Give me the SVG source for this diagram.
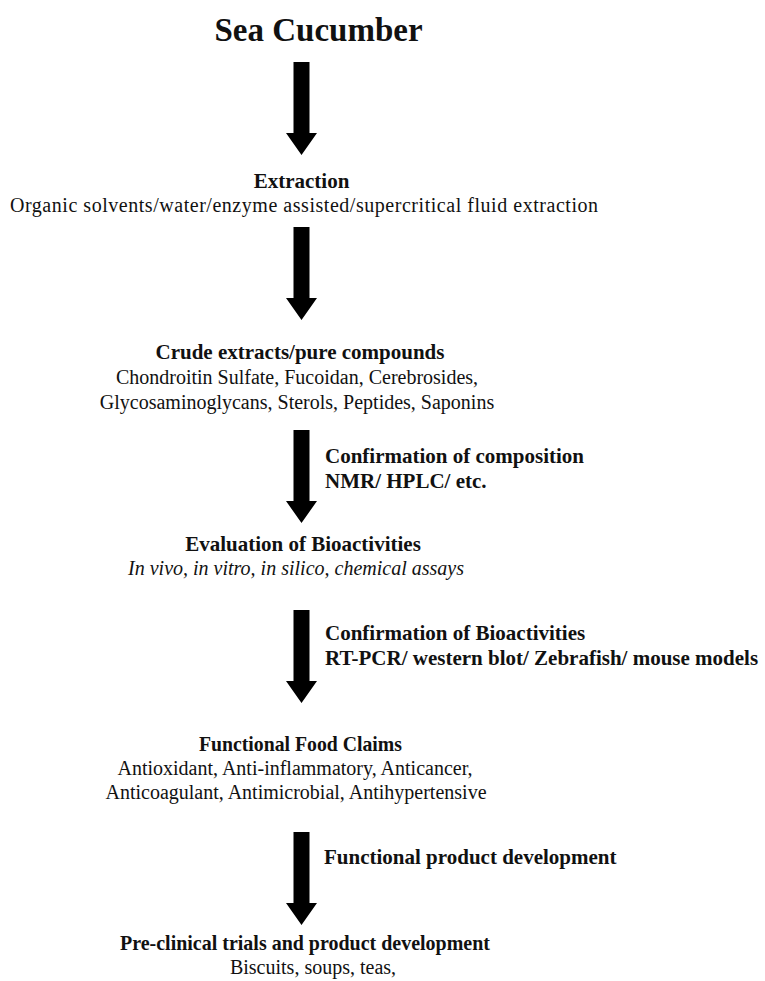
<svg xmlns="http://www.w3.org/2000/svg" width="765" height="981" viewBox="0 0 765 981">
<style>
text{font-family:"Liberation Serif","Times New Roman",serif;fill:#111}
.t{font-size:33px;font-weight:bold;text-anchor:middle}
.h{font-size:21px;font-weight:bold;text-anchor:middle}
.b{font-size:20px;text-anchor:middle}
.i{font-size:20px;font-style:italic;text-anchor:middle}
.l{font-size:21px;font-weight:bold}
.arr{fill:#000}
</style>
<defs>
<path id="arrow" d="M-8,0 H8 V71 H15.5 L0,93 L-15.5,71 H-8 Z"/>
</defs>
<rect width="765" height="981" fill="#fff"/>
<g id="connectors">
<use href="#arrow" class="arr" x="301.5" y="62"/>
<use href="#arrow" class="arr" x="301.5" y="227"/>
<use href="#arrow" class="arr" x="301.5" y="430"/>
<use href="#arrow" class="arr" x="301.5" y="610"/>
<use href="#arrow" class="arr" x="301.5" y="832"/>
</g>
<g id="sea-cucumber"><text class="t" x="318.5" y="41">Sea Cucumber</text></g>
<g id="extraction">
<text class="h" x="301.5" y="188">Extraction</text>
<text class="b" x="304" y="212" textLength="588" lengthAdjust="spacing">Organic solvents/water/enzyme assisted/supercritical fluid extraction</text>
</g>
<g id="crude">
<text class="h" x="300" y="359">Crude extracts/pure compounds</text>
<text class="b" x="297" y="384">Chondroitin Sulfate, Fucoidan, Cerebrosides,</text>
<text class="b" x="297" y="409">Glycosaminoglycans, Sterols, Peptides, Saponins</text>
</g>
<g id="label-composition">
<text class="l" x="325" y="463">Confirmation of composition</text>
<text class="l" x="325" y="488">NMR/ HPLC/ etc.</text>
</g>
<g id="evaluation">
<text class="h" x="303" y="551">Evaluation of Bioactivities</text>
<text class="i" x="296" y="575">In vivo, in vitro, in silico, chemical assays</text>
</g>
<g id="label-bioactivities">
<text class="l" x="325" y="640">Confirmation of Bioactivities</text>
<text class="l" x="325" y="665">RT-PCR/ western blot/ Zebrafish/ mouse models</text>
</g>
<g id="claims">
<text class="h" x="300.5" y="751" textLength="203" lengthAdjust="spacingAndGlyphs">Functional Food Claims</text>
<text class="b" x="295" y="775">Antioxidant, Anti-inflammatory, Anticancer,</text>
<text class="b" x="296" y="799">Anticoagulant, Antimicrobial, Antihypertensive</text>
</g>
<g id="label-product"><text class="l" x="324" y="864">Functional product development</text></g>
<g id="preclinical">
<text class="h" x="305" y="950" textLength="370" lengthAdjust="spacingAndGlyphs">Pre-clinical trials and product development</text>
<text class="b" x="313" y="974">Biscuits, soups, teas,</text>
</g>
</svg>
